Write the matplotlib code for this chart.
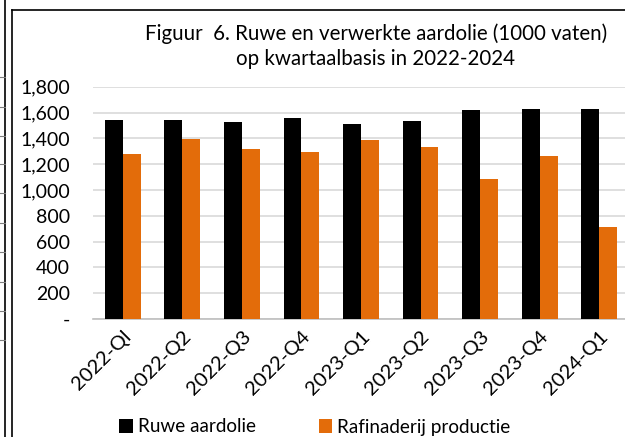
import matplotlib
matplotlib.use("Agg")
import matplotlib.pyplot as plt
import numpy as np
from matplotlib.lines import Line2D
from matplotlib.ticker import FuncFormatter

categories = ["2022-Ql", "2022-Q2", "2022-Q3", "2022-Q4", "2023-Q1",
              "2023-Q2", "2023-Q3", "2023-Q4", "2024-Q1"]
ruwe = [1545, 1540, 1527, 1556, 1509, 1537, 1618, 1626, 1624]
rafinaderij = [1279, 1398, 1315, 1297, 1388, 1333, 1085, 1264, 711]
series_names = ["Ruwe aardolie", "Rafinaderij productie"]
title = "Figuur  6. Ruwe en verwerkte aardolie (1000 vaten)\nop kwartaalbasis in 2022-2024"

plt.rcParams['font.family'] = ['Lato', 'DejaVu Sans']

W, H = 625, 437
fig = plt.figure(figsize=(W/100, H/100), dpi=100)
ax = fig.add_axes([93/W, 118/H, (629-93)/W, (319-86.7)/H])

x = np.arange(len(categories))
bw = 0.30
ax.bar(x - bw/2, ruwe, bw, color="#000000", label=series_names[0], zorder=3)
ax.bar(x + bw/2, rafinaderij, bw, color="#E36C0A", label=series_names[1], zorder=3)

ax.set_xlim(-0.5, len(categories) - 0.5)
ax.set_ylim(0, 1800)
ax.set_yticks(np.arange(0, 1801, 200))
ax.yaxis.set_major_formatter(FuncFormatter(lambda v, p: "-" if v == 0 else f"{int(v):,}"))
ax.grid(axis="y", color="#d9d9d9", linewidth=1.2, zorder=0)
for s in ["top", "right", "left"]:
    ax.spines[s].set_visible(False)
ax.spines["bottom"].set_color("#bfbfbf")
ax.spines["bottom"].set_linewidth(1.2)
ax.tick_params(axis="y", length=0, pad=16.5, labelsize=14)
ax.tick_params(axis="x", length=0, pad=6, labelsize=14.5)
ax.set_xticks(x)
ax.set_xticklabels(categories, rotation=45, ha="right", rotation_mode="anchor")

fig.text(376/W, 1 - 46/H, title, ha="center", va="center", fontsize=14.8, linespacing=1.3)

ax.legend(loc="center", bbox_to_anchor=(315/W, 1 - 427/H), bbox_transform=fig.transFigure,
          ncol=2, frameon=False, fontsize=13.6, handlelength=0.7, handleheight=0.7,
          handletextpad=0.3, columnspacing=3.3, borderaxespad=0)

# surrounding frame lines (spreadsheet borders)
fig.add_artist(Line2D([4.5/W, 4.5/W], [0, 1], color="black", lw=1.2, transform=fig.transFigure))
fig.add_artist(Line2D([11.5/W, 11.5/W], [0, 1 - 10/H], color="black", lw=1.2, transform=fig.transFigure))
fig.add_artist(Line2D([11.5/W, 1], [1 - 10/H, 1 - 10/H], color="black", lw=1.2, transform=fig.transFigure))
for yy in [77, 107, 136, 164, 193, 223, 252, 282, 311, 340]:
    fig.add_artist(Line2D([0, 4.5/W], [1 - yy/H, 1 - yy/H], color="#7f7f7f", lw=0.8, transform=fig.transFigure))

fig.savefig("out.png", dpi=100)
